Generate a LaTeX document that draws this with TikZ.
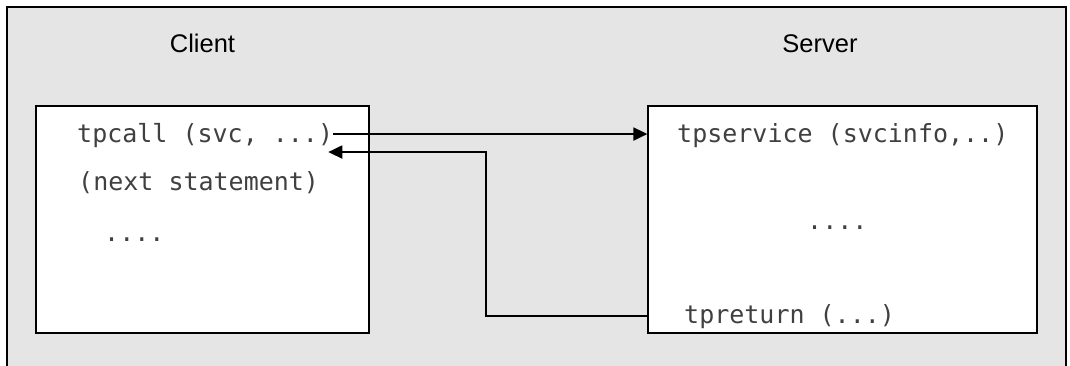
\documentclass[tikz,border=0pt]{standalone}
\usepackage{fontspec}
\setmainfont{Liberation Sans}
\newfontfamily\codefont{DejaVu Sans Mono}
\usetikzlibrary{arrows.meta}
\definecolor{panel}{HTML}{E5E5E5}
\tikzset{
  frameline/.style={line width=1.4pt, black},
  procbox/.style={draw=black, line width=1.3pt, fill=white, inner sep=0pt, minimum height=227pt},
  title/.style={font=\fontsize{25.5}{30}\selectfont, inner sep=0pt, anchor=base},
  code/.style={font=\codefont\fontsize{25}{30}\selectfont, text=black!75, inner sep=0pt, anchor=base west},
  arr/.style={line width=2pt, -{Triangle[length=14pt,width=13pt]}},
}
\begin{document}
\begin{tikzpicture}[x=1pt, y=-1pt]
  \useasboundingbox (0,0) rectangle (1070,366);
  % grey panel, open at the bottom
  \fill[panel] (7,7) rectangle (1066,366);
  \draw[frameline] (7,366) -- (7,7) -- (1066,7) -- (1066,366);

  % headings
  \node[title] (clientlbl) at (202.5,53) {Client};
  \node[title] (serverlbl) at (820,53) {Server};

  % process boxes
  \node[procbox, minimum width=333pt] (cli) at (202.5,219.5) {};
  \node[procbox, minimum width=389pt] (srv) at (842.5,219.5) {};

  % client code
  \node[code] (call) at (77,143) {tpcall (svc, ...)};
  \node[code] (next) at (78,190) {(next statement)};
  \node[code] (cdots) at (104,241) {....};

  % server code
  \node[code] (svc) at (677,143) {tpservice (svcinfo,..)};
  \node[code] (sdots) at (807,229) {....};
  \node[code] (rtn) at (684,323) {tpreturn (...)};

  % request and reply
  \draw[arr] ([yshift=2pt]call.east) -- ([yshift=2pt]call.east -| srv.west);
  \draw[arr] (srv.west |- rtn.west) -- ++(-161,0)
        |- ([xshift=-5pt,yshift=-16pt]call.east);
\end{tikzpicture}
\end{document}
